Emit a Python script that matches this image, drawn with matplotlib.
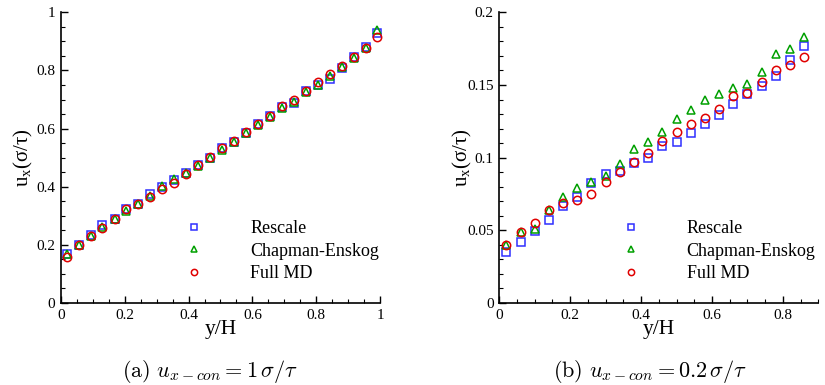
import matplotlib
matplotlib.use('Agg')
import matplotlib.pyplot as plt
from matplotlib.ticker import MultipleLocator, FuncFormatter

plt.rcParams['font.family'] = ['Liberation Serif', 'DejaVu Serif']

# (a) u_x-con = 1
x_a = [0.018, 0.055, 0.093, 0.130, 0.168, 0.205, 0.243, 0.280, 0.318, 0.355,
       0.393, 0.430, 0.468, 0.505, 0.543, 0.580, 0.618, 0.655, 0.693, 0.730,
       0.768, 0.805, 0.843, 0.880, 0.918, 0.955, 0.992]
rescale_a = [0.170, 0.199, 0.233, 0.268, 0.290, 0.323, 0.340, 0.374, 0.400, 0.423,
             0.446, 0.475, 0.500, 0.532, 0.555, 0.586, 0.616, 0.643, 0.675, 0.687,
             0.728, 0.750, 0.770, 0.807, 0.847, 0.880, 0.928]
ce_a = [0.168, 0.199, 0.231, 0.262, 0.290, 0.316, 0.341, 0.369, 0.402, 0.426,
        0.446, 0.472, 0.498, 0.525, 0.553, 0.584, 0.613, 0.641, 0.671, 0.692,
        0.727, 0.750, 0.780, 0.812, 0.843, 0.876, 0.939]
md_a = [0.157, 0.200, 0.232, 0.257, 0.290, 0.322, 0.341, 0.364, 0.391, 0.414,
        0.445, 0.474, 0.501, 0.533, 0.556, 0.587, 0.617, 0.644, 0.676, 0.698,
        0.729, 0.759, 0.787, 0.817, 0.848, 0.877, 0.914]

# (b) u_x-con = 0.2
x_b = [0.02, 0.06, 0.10, 0.14, 0.18, 0.22, 0.26, 0.30, 0.34, 0.38, 0.42,
       0.46, 0.50, 0.54, 0.58, 0.62, 0.66, 0.70, 0.74, 0.78, 0.82, 0.86]
rescale_b = [0.0349, 0.0417, 0.0497, 0.0571, 0.0667, 0.0731, 0.0828, 0.0888, 0.0910, 0.0961, 0.0995,
             0.1080, 0.1110, 0.1172, 0.1232, 0.1294, 0.1369, 0.1438, 0.1493, 0.1564, 0.1672, 0.1768]
ce_b = [0.0399, 0.0490, 0.0510, 0.0640, 0.0731, 0.0790, 0.0835, 0.0876, 0.0956, 0.1060, 0.1110,
        0.1174, 0.1268, 0.1328, 0.1397, 0.1436, 0.1477, 0.1505, 0.1591, 0.1711, 0.1745, 0.1828]
md_b = [0.0400, 0.0490, 0.0553, 0.0637, 0.0690, 0.0709, 0.0748, 0.0830, 0.0898, 0.0970, 0.1030,
        0.1115, 0.1177, 0.1232, 0.1273, 0.1335, 0.1426, 0.1445, 0.1520, 0.1603, 0.1637, 0.1695]

labels = ['Rescale', 'Chapman-Enskog', 'Full MD']
markers = ['s', '^', 'o']
colors = ['#2f2fff', '#00a000', '#e00000']

fig = plt.figure(figsize=(8.25, 3.85), dpi=100)
ax_a = fig.add_axes([0.0739, 0.213, 0.3867, 0.755])
ax_b = fig.add_axes([0.6052, 0.213, 0.3867, 0.755])

fmt = FuncFormatter(lambda v, p: '%g' % round(v, 4))


def setup(ax, xlim, ylim, xmaj, ymaj, ymin, leg_x):
    ax.set_xlim(*xlim)
    ax.set_ylim(*ylim)
    ax.xaxis.set_major_locator(MultipleLocator(xmaj))
    ax.xaxis.set_minor_locator(MultipleLocator(0.05))
    ax.yaxis.set_major_locator(MultipleLocator(ymaj))
    ax.yaxis.set_minor_locator(MultipleLocator(ymin))
    ax.xaxis.set_major_formatter(fmt)
    ax.yaxis.set_major_formatter(fmt)
    for s in ['top', 'right']:
        ax.spines[s].set_visible(False)
    for s in ['left', 'bottom']:
        ax.spines[s].set_linewidth(1.2)
    ax.tick_params(which='major', direction='in', length=5, width=1, labelsize=11, pad=4)
    ax.tick_params(which='minor', direction='in', length=3, width=0.8)
    ax.set_xlabel('y/H', fontsize=15.5)
    ax.xaxis.set_label_coords(0.5, -0.058)
    ax.xaxis.label.set_va('top')
    ax.set_ylabel(r'u$_\mathregular{x}$(σ/τ)', fontsize=15)
    ax.yaxis.set_label_coords(-0.116, 0.5)
    ax.yaxis.label.set_va('center')
    ax.legend(loc='upper left', bbox_to_anchor=(leg_x, 0.285), frameon=False,
              fontsize=13, handlelength=2, handletextpad=2.1, labelspacing=0.3,
              borderpad=0, borderaxespad=0, markerscale=0.75)


for x, ys, ax in [(x_a, [rescale_a, ce_a, md_a], ax_a), (x_b, [rescale_b, ce_b, md_b], ax_b)]:
    for y, lab, m, c in zip(ys, labels, markers, colors):
        ax.plot(x, y, linestyle='none', marker=m, markersize=6, markerfacecolor='none',
                markeredgecolor=c, markeredgewidth=1.1, label=lab, clip_on=False)

setup(ax_a, (0, 1), (0, 1), 0.2, 0.2, 0.05, 0.361)
setup(ax_b, (0, 0.9), (0, 0.2), 0.2, 0.05, 0.01, 0.355)

fig.text(0.2545, 0.035, r'$\mathrm{(a)}\ u_{x-con} = 1\,\sigma/\tau$', ha='center', va='center',
         fontsize=16, math_fontfamily='cm')
fig.text(0.788, 0.035, r'$\mathrm{(b)}\ u_{x-con} = 0.2\,\sigma/\tau$', ha='center', va='center',
         fontsize=16, math_fontfamily='cm')

plt.savefig('out.png', dpi=100)
